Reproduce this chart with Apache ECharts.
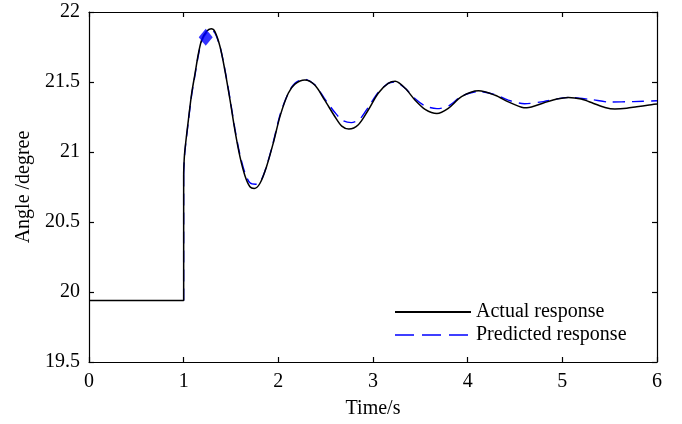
<!DOCTYPE html>
<html>
<head>
<meta charset="utf-8">
<script src="https://cdn.jsdelivr.net/npm/echarts@6/dist/echarts.min.js"></script>
<style>
html,body{margin:0;padding:0;background:#fff;}
#chart{width:682px;height:424px;}
</style>
</head>
<body>
<div id="chart"></div>
<script>
// ---- data ----
const xTicks = [0, 1, 2, 3, 4, 5, 6];
const yTicks = [19.5, 20, 20.5, 21, 21.5, 22];

const actualStepT = [0, 1, 1];
const actualStepV = [19.94, 19.94, 20.85];

const actualT = [1, 1.01, 1.05, 1.085, 1.12, 1.155, 1.19, 1.24, 1.29, 1.33, 1.385, 1.435, 1.49, 1.54, 1.595, 1.65, 1.70, 1.745, 1.805, 1.875, 1.945, 2.02, 2.105, 2.175, 2.28, 2.385, 2.49, 2.6, 2.67, 2.745, 2.845, 2.95, 3.055, 3.16, 3.235, 3.34, 3.445, 3.55, 3.675, 3.795, 3.935, 4.115, 4.29, 4.43, 4.57, 4.625, 4.8, 4.94, 5.065, 5.2, 5.33, 5.45, 5.555, 5.68, 5.785, 5.9, 6];
const actualV = [20.85, 20.99, 21.23, 21.42, 21.56, 21.70, 21.80, 21.86, 21.88, 21.86, 21.75, 21.585, 21.37, 21.16, 20.965, 20.825, 20.752, 20.74, 20.775, 20.895, 21.06, 21.26, 21.42, 21.485, 21.515, 21.478, 21.37, 21.25, 21.185, 21.164, 21.195, 21.30, 21.42, 21.49, 21.505, 21.455, 21.37, 21.305, 21.275, 21.312, 21.395, 21.437, 21.405, 21.358, 21.32, 21.316, 21.35, 21.378, 21.39, 21.378, 21.347, 21.318, 21.307, 21.312, 21.323, 21.334, 21.342];

const predStepT = [1, 1];
const predStepV = [19.94, 20.84];

const predT = [1, 1.01, 1.05, 1.085, 1.12, 1.155, 1.19, 1.24, 1.29, 1.33, 1.385, 1.435, 1.49, 1.54, 1.595, 1.65, 1.70, 1.76, 1.82, 1.885, 1.95, 2.02, 2.105, 2.175, 2.275, 2.385, 2.49, 2.6, 2.68, 2.77, 2.86, 2.95, 3.055, 3.16, 3.23, 3.34, 3.445, 3.55, 3.675, 3.8, 3.94, 4.12, 4.29, 4.43, 4.6, 4.8, 5.07, 5.3, 5.5, 5.75, 6];
const predV = [20.84, 20.98, 21.22, 21.41, 21.55, 21.69, 21.79, 21.85, 21.87, 21.85, 21.75, 21.59, 21.38, 21.17, 20.98, 20.845, 20.78, 20.77, 20.80, 20.92, 21.08, 21.27, 21.42, 21.49, 21.52, 21.48, 21.38, 21.28, 21.225, 21.21, 21.235, 21.32, 21.425, 21.49, 21.50, 21.455, 21.38, 21.33, 21.31, 21.33, 21.40, 21.432, 21.41, 21.37, 21.345, 21.36, 21.39, 21.375, 21.357, 21.36, 21.366];

const markerT = [1.233];
const markerV = [21.82];

const seriesNames = ['Actual response', 'Predicted response'];
const axisNames = ['Time/s', 'Angle /degree'];

// ---- build ----
const zip = (a, b) => a.map((v, i) => [v, b[i]]);
const FONT = 'Liberation Serif';
const BLUE = '#0000ff';

const chart = echarts.init(document.getElementById('chart'), null, {renderer: 'canvas'});

const baseX = {
  type: 'value', min: xTicks[0], max: xTicks[xTicks.length - 1], interval: xTicks[1] - xTicks[0],
  splitLine: {show: false},
  axisLine: {show: true, onZero: false, lineStyle: {color: '#000', width: 1.2}},
  axisTick: {show: true, inside: true, length: 5, lineStyle: {color: '#000', width: 1.2}}
};
const baseY = {
  type: 'value', min: yTicks[0], max: yTicks[yTicks.length - 1], interval: yTicks[1] - yTicks[0],
  splitLine: {show: false},
  axisLine: {show: true, onZero: false, lineStyle: {color: '#000', width: 1.2}},
  axisTick: {show: true, inside: true, length: 5, lineStyle: {color: '#000', width: 1.2}}
};

chart.setOption({
  animation: false,
  backgroundColor: '#fff',
  textStyle: {fontFamily: FONT, color: '#000'},
  grid: {left: 89, right: 25, top: 12, bottom: 62, containLabel: false},
  legend: {
    orient: 'vertical', left: 389, top: 297, itemGap: 3,
    itemWidth: 76, itemHeight: 14,
    itemStyle: {opacity: 0},
    textStyle: {fontFamily: FONT, fontSize: 20, color: '#000'},
    data: [
      {name: seriesNames[0], itemStyle: {opacity: 0}},
      {name: seriesNames[1], itemStyle: {opacity: 0}, lineStyle: {type: [19, 8], width: 1.4}}
    ]
  },
  xAxis: [
    Object.assign({}, baseX, {
      position: 'bottom',
      name: axisNames[0], nameLocation: 'middle', nameGap: 37,
      nameTextStyle: {fontFamily: FONT, fontSize: 20, color: '#000'},
      axisLabel: {show: true, margin: 10, fontFamily: FONT, fontSize: 20, color: '#000'}
    }),
    Object.assign({}, baseX, {position: 'top', axisLabel: {show: false}})
  ],
  yAxis: [
    Object.assign({}, baseY, {
      position: 'left',
      name: axisNames[1], nameLocation: 'middle', nameGap: 52, nameRotate: 90,
      nameTextStyle: {fontFamily: FONT, fontSize: 20, color: '#000'},
      axisLabel: {show: true, margin: 9, fontFamily: FONT, fontSize: 20, color: '#000'}
    }),
    Object.assign({}, baseY, {position: 'right', axisLabel: {show: false}})
  ],
  series: [
    {
      name: seriesNames[1], type: 'line', data: zip(predStepT, predStepV),
      showSymbol: false, symbol: 'none', smooth: false,
      lineStyle: {color: BLUE, width: 1.4, type: [12, 7]}, itemStyle: {color: BLUE}, z: 2
    },
    {
      name: seriesNames[1], type: 'line', data: zip(predT, predV),
      showSymbol: false, symbol: 'none', smooth: 0.3,
      lineStyle: {color: BLUE, width: 1.4, type: [12, 7]}, itemStyle: {color: BLUE}, z: 2
    },
    {
      name: seriesNames[0], type: 'line', data: zip(actualStepT, actualStepV),
      showSymbol: false, symbol: 'none', smooth: false,
      lineStyle: {color: '#000', width: 1.5}, itemStyle: {color: '#000'}, z: 3
    },
    {
      name: seriesNames[0], type: 'line', data: zip(actualT, actualV),
      showSymbol: false, symbol: 'none', smooth: 0.3,
      lineStyle: {color: '#000', width: 1.5}, itemStyle: {color: '#000'}, z: 3
    },
    {
      name: 'peak', type: 'scatter', data: zip(markerT, markerV),
      symbol: 'diamond', symbolSize: [14, 17],
      itemStyle: {color: BLUE}, z: 4
    }
  ]
});
</script>
</body>
</html>
